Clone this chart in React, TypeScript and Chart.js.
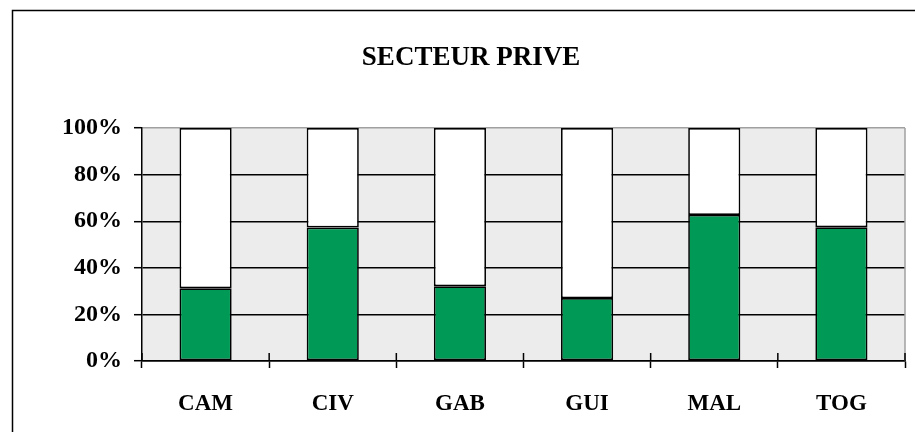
import React, { useEffect, useRef } from "react";
import { Chart, registerables } from "chart.js";

Chart.register(...registerables);

const TITLE = "SECTEUR PRIVE";
const categories = ["CAM", "CIV", "GAB", "GUI", "MAL", "TOG"];
const greenShare = [31.2, 57.3, 32.1, 27.0, 62.7, 57.4];
const restShare = [68.8, 42.7, 67.9, 73.0, 37.3, 42.6];
const yTicks = [0, 20, 40, 60, 80, 100];

const FONT = "'Liberation Serif', 'Times New Roman', serif";

const decor = {
  id: "decor",
  beforeDraw(chart: any) {
    const { ctx, chartArea } = chart;
    ctx.save();
    ctx.fillStyle = "#ffffff";
    ctx.fillRect(0, 0, chart.width, chart.height);
    ctx.fillStyle = "#ececec";
    ctx.fillRect(chartArea.left, chartArea.top, chartArea.right - chartArea.left, chartArea.bottom - chartArea.top);
    ctx.strokeStyle = "#000";
    ctx.lineWidth = 1.5;
    ctx.strokeRect(12.5, 10.5, 2000, 2000);
    ctx.fillStyle = "#000";
    ctx.font = `bold 27px ${FONT}`;
    ctx.textAlign = "center";
    ctx.textBaseline = "middle";
    ctx.fillText(TITLE, 471, 58);
    ctx.restore();
  },
  beforeDatasetsDraw(chart: any) {
    const { ctx, chartArea } = chart;
    const xs = chart.scales.x;
    ctx.save();
    ctx.strokeStyle = "#a0a0a0";
    ctx.lineWidth = 1.5;
    ctx.beginPath();
    ctx.moveTo(chartArea.right, chartArea.top);
    ctx.lineTo(chartArea.right, chartArea.bottom);
    ctx.stroke();
    ctx.strokeStyle = "#000";
    const half = (xs.getPixelForValue(1) - xs.getPixelForValue(0)) / 2;
    ctx.beginPath();
    for (let i = 0; i <= categories.length; i++) {
      const px = xs.getPixelForValue(i) - half;
      ctx.moveTo(px, chartArea.bottom - 8);
      ctx.lineTo(px, chartArea.bottom);
    }
    ctx.stroke();
    ctx.restore();
  },
};

export default function App() {
  const ref = useRef<HTMLCanvasElement>(null);
  useEffect(() => {
    if (!ref.current) return;
    const chart = new Chart(ref.current, {
      type: "bar",
      data: {
        labels: categories,
        datasets: [
          {
            label: "Part",
            data: greenShare,
            backgroundColor: "#009a56",
            borderColor: "#000",
            borderWidth: 1.7,
            borderSkipped: false,
            barPercentage: 0.41,
            categoryPercentage: 1,
          },
          {
            label: "Reste",
            data: restShare,
            backgroundColor: "#ffffff",
            borderColor: "#000",
            borderWidth: 1.7,
            borderSkipped: false,
            barPercentage: 0.41,
            categoryPercentage: 1,
          },
        ],
      },
      options: {
        responsive: false,
        animation: false,
        layout: { padding: { top: 128, right: 10, left: 0, bottom: 0 } },
        plugins: { legend: { display: false }, title: { display: false }, tooltip: { enabled: false } },
        scales: {
          x: {
            stacked: true,
            grid: { display: true, drawOnChartArea: false, drawTicks: true, tickLength: 7, tickColor: "#000", tickWidth: 1.5, offset: true },
            border: { display: true, color: "#000", width: 1.5 },
            ticks: { color: "#000", font: { family: FONT, size: 23, weight: "bold" }, padding: 22, maxRotation: 0 },
            afterFit: (s: any) => { s.height = 71; },
          },
          y: {
            stacked: true,
            min: 0,
            max: 100,
            afterBuildTicks: (s: any) => { s.ticks = yTicks.map((v) => ({ value: v })); },
            grid: {
              color: (c: any) => (c.tick && c.tick.value === 100 ? "#a0a0a0" : "#000"),
              lineWidth: 1.4,
              tickLength: 8,
              tickColor: "#000",
              tickWidth: 1.5,
            },
            border: { display: true, color: "#000", width: 1.5 },
            ticks: { color: "#000", font: { family: FONT, size: 24, weight: "bold" }, padding: 12, callback: (v: any) => v + "%" },
            afterFit: (s: any) => { s.width = 142; },
          },
        },
      },
      plugins: [decor],
    });
    return () => chart.destroy();
  }, []);
  return (
    <div style={{ position: "absolute", left: 0, top: 0, width: 915, height: 432, overflow: "hidden" }}>
      <canvas ref={ref} width={915} height={432} style={{ display: "block" }} />
    </div>
  );
}
